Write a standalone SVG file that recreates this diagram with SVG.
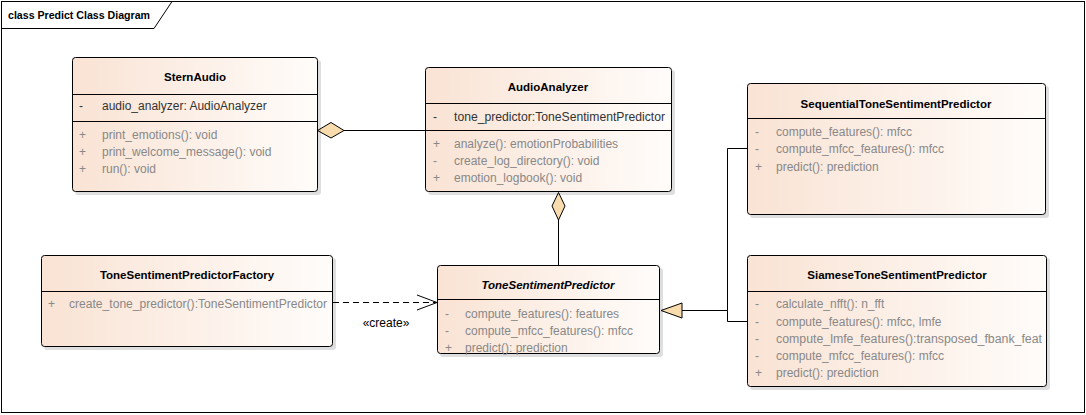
<svg xmlns="http://www.w3.org/2000/svg" width="1086" height="415" viewBox="0 0 1086 415">
<defs>
<linearGradient id="g" x1="0" y1="0" x2="1" y2="0">
<stop offset="0" stop-color="#f9e3d4"/>
<stop offset="1" stop-color="#fffcfa"/>
</linearGradient>
<style>
text{font-family:"Liberation Sans",Arial,sans-serif;font-size:12px;fill:#333}
.t{font-weight:bold;text-anchor:middle;fill:#000;font-size:11.5px}
.i{font-style:italic}
.m{fill:#888}
.a{fill:#333}
.box{fill:url(#g);stroke:#000;stroke-width:1}
.sh{fill:#000;opacity:0.13}
.div{stroke:#000;stroke-width:1}
.ln{stroke:#000;stroke-width:1;fill:none}
.dia{fill:#f9dcae;stroke:#000;stroke-width:1}
</style>
</defs>
<rect x="1.5" y="1.5" width="1083" height="411" fill="#fff" stroke="#000"/>
<path d="M1.5 28.5 H154 L172 1.5" fill="none" stroke="#000"/>
<text x="8" y="19" textLength="142" lengthAdjust="spacingAndGlyphs" style="font-weight:bold;fill:#000;font-size:11.5px">class Predict Class Diagram</text>

<g id="connectors">
<line class="ln" x1="344" y1="130.5" x2="425" y2="130.5"/>
<polygon class="dia" points="317.5,130.5 331,122.5 344,130.5 331,138"/>
<line class="ln" x1="558.5" y1="220" x2="558.5" y2="265"/>
<polygon class="dia" points="558.5,192.5 565,206 558.5,220 552,206"/>
<line class="ln" x1="333" y1="302.5" x2="437" y2="302.5" stroke-dasharray="6,4"/>
<path class="ln" d="M417 295 L437 302.5 L417 310"/>
<text x="386" y="327" style="text-anchor:middle;fill:#000">«create»</text>
<path class="ln" d="M682 310.5 H727.5 V148.5 H747 M727.5 310.5 V321.5 H747"/>
<polygon class="dia" points="661,310.5 682,303 682,318"/>
</g>

<g id="SternAudio">
<rect class="sh" x="75" y="60" width="246" height="135" rx="3"/>
<rect class="box" x="72.5" y="57.5" width="245" height="134" rx="3"/>
<line class="div" x1="72.5" y1="94.5" x2="317.5" y2="94.5"/>
<line class="div" x1="72.5" y1="121.5" x2="317.5" y2="121.5"/>
<text class="t" x="195" y="81">SternAudio</text>
<text class="a" x="79" y="110">-</text><text class="a" x="102" y="110">audio_analyzer: AudioAnalyzer</text>
<text class="m" x="79" y="139">+</text><text class="m" x="102" y="139">print_emotions(): void</text>
<text class="m" x="79" y="156">+</text><text class="m" x="102" y="156">print_welcome_message(): void</text>
<text class="m" x="79" y="173">+</text><text class="m" x="102" y="173">run(): void</text>
</g>

<g id="AudioAnalyzer">
<rect class="sh" x="428" y="70" width="247" height="125" rx="3"/>
<rect class="box" x="425.5" y="67.5" width="246" height="124" rx="3"/>
<line class="div" x1="425.5" y1="103.5" x2="671.5" y2="103.5"/>
<line class="div" x1="425.5" y1="130.5" x2="671.5" y2="130.5"/>
<text class="t" x="548" y="91">AudioAnalyzer</text>
<text class="a" x="433" y="121">-</text><text class="a" x="454" y="121" textLength="211" lengthAdjust="spacingAndGlyphs">tone_predictor:ToneSentimentPredictor</text>
<text class="m" x="433" y="148">+</text><text class="m" x="454" y="148">analyze(): emotionProbabilities</text>
<text class="m" x="433" y="165">-</text><text class="m" x="454" y="165">create_log_directory(): void</text>
<text class="m" x="433" y="182">+</text><text class="m" x="454" y="182">emotion_logbook(): void</text>
</g>

<g id="SequentialToneSentimentPredictor">
<rect class="sh" x="750" y="86" width="299" height="132" rx="3"/>
<rect class="box" x="747.5" y="83.5" width="298" height="131" rx="3"/>
<line class="div" x1="747.5" y1="118.5" x2="1045.5" y2="118.5"/>
<text class="t" x="896" y="108">SequentialToneSentimentPredictor</text>
<text class="m" x="755" y="136">-</text><text class="m" x="776" y="136">compute_features(): mfcc</text>
<text class="m" x="755" y="153">-</text><text class="m" x="776" y="153">compute_mfcc_features(): mfcc</text>
<text class="m" x="755" y="171">+</text><text class="m" x="776" y="171">predict(): prediction</text>
</g>

<g id="ToneSentimentPredictorFactory">
<rect class="sh" x="44" y="258" width="292" height="92" rx="3"/>
<rect class="box" x="41.5" y="255.5" width="291" height="91" rx="3"/>
<line class="div" x1="41.5" y1="291.5" x2="332.5" y2="291.5"/>
<text class="t" x="187" y="279">ToneSentimentPredictorFactory</text>
<text class="m" x="48" y="308">+</text><text class="m" x="69" y="308" textLength="258" lengthAdjust="spacingAndGlyphs">create_tone_predictor():ToneSentimentPredictor</text>
</g>

<g id="ToneSentimentPredictor">
<rect class="sh" x="440" y="268" width="223" height="89" rx="3"/>
<rect class="box" x="437.5" y="265.5" width="222" height="88" rx="3"/>
<line class="div" x1="437.5" y1="299.5" x2="659.5" y2="299.5"/>
<text class="t i" x="548" y="289">ToneSentimentPredictor</text>
<text class="m" x="445" y="318">-</text><text class="m" x="465" y="318">compute_features(): features</text>
<text class="m" x="445" y="335">-</text><text class="m" x="465" y="335">compute_mfcc_features(): mfcc</text>
<text class="m" x="445" y="352">+</text><text class="m" x="465" y="352">predict(): prediction</text>
</g>

<g id="SiameseToneSentimentPredictor">
<rect class="sh" x="750" y="258" width="300" height="132" rx="3"/>
<rect class="box" x="747.5" y="255.5" width="299" height="131" rx="3"/>
<line class="div" x1="747.5" y1="291.5" x2="1046.5" y2="291.5"/>
<text class="t" x="897" y="279">SiameseToneSentimentPredictor</text>
<text class="m" x="755" y="308">-</text><text class="m" x="776" y="308">calculate_nfft(): n_fft</text>
<text class="m" x="755" y="326">-</text><text class="m" x="776" y="326">compute_features(): mfcc, lmfe</text>
<text class="m" x="755" y="343">-</text><text class="m" x="776" y="343" textLength="266" lengthAdjust="spacingAndGlyphs">compute_lmfe_features():transposed_fbank_feat</text>
<text class="m" x="755" y="360">-</text><text class="m" x="776" y="360">compute_mfcc_features(): mfcc</text>
<text class="m" x="755" y="377">+</text><text class="m" x="776" y="377">predict(): prediction</text>
</g>
</svg>
